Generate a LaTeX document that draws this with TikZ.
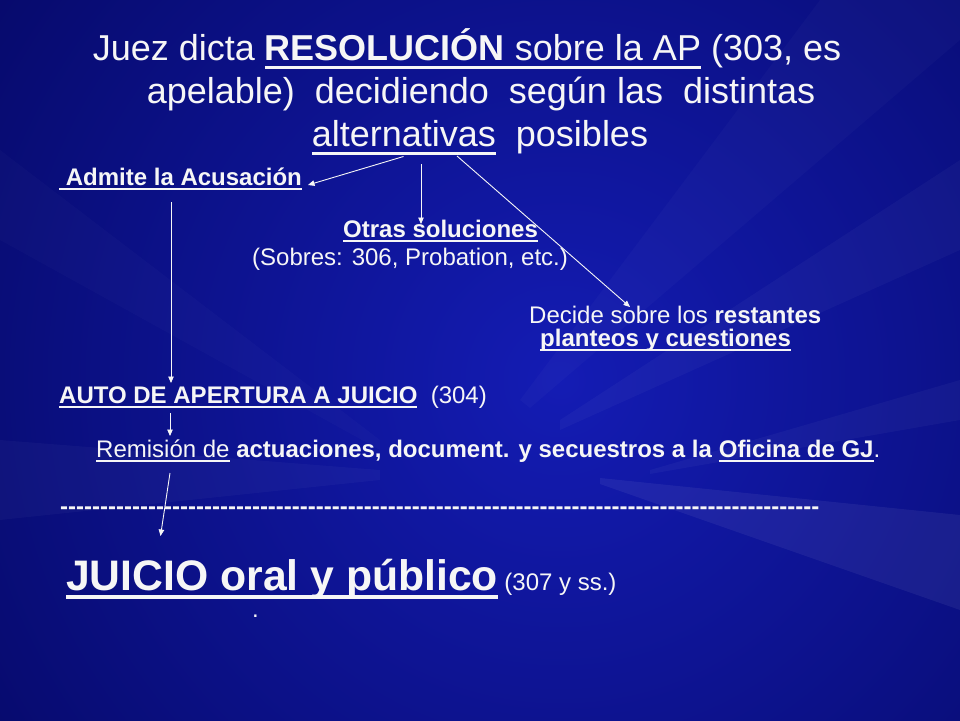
\documentclass[tikz,border=0pt]{standalone}
\usepackage{fontspec}
\setmainfont{Liberation Sans}
\usetikzlibrary{arrows.meta,calc}
\definecolor{txt}{RGB}{246,246,246}
\definecolor{bgin}{RGB}{20,28,180}
\definecolor{bgout}{RGB}{5,8,100}
\newcommand\myul[2][0.22em]{\setbox0\hbox{#2}\rlap{\rule[-#1]{\wd0}{0.08em}}\box0\relax}
\newcommand\dashrow[1]{\foreach \k in {1,...,#1}{-\kern0pt}}
\tikzset{
  txtnode/.style={text=txt, inner sep=0pt, anchor=base west, font=\fontsize{24}{28}\selectfont},
  ttl/.style={text=txt, inner sep=0pt, anchor=base, font=\fontsize{36}{43}\selectfont},
  arr/.style={draw=txt, line width=0.9pt, -{Triangle[width=5.5pt,length=6.5pt]}},
  streak/.style={fill=white, opacity=#1},
}
\begin{document}
\begin{tikzpicture}[x=1pt,y=-1pt]
\useasboundingbox (0,0) rectangle (960,720);
% background
\begin{scope}
  \clip (0,0) rectangle (960,720);
  \fill[bgout] (0,0) rectangle (960,720);
  \shade[inner color=bgin, outer color=bgout] (560,380) circle (760);
  \fill[streak=0.06] (600,478) -- (960,515) -- (960,610) -- (600,484) -- cycle;
  \fill[streak=0.035] (650,470) -- (960,380) -- (960,420) -- (650,474) -- cycle;
  \fill[streak=0.03] (560,420) -- (960,160) -- (960,250) -- (560,430) -- cycle;
  \fill[streak=0.025] (520,400) -- (820,0) -- (960,0) -- (960,40) -- (530,408) -- cycle;
  \fill[streak=0.03] (380,470) -- (0,440) -- (0,520) -- (380,480) -- cycle;
  \fill[streak=0.02] (380,440) -- (0,150) -- (0,240) -- (380,450) -- cycle;
\end{scope}
% title
\node[ttl] (t1) at (467,60) {Juez dicta \myul[0.26em]{\textbf{RESOLUCIÓN} sobre la AP} (303, es};
\node[ttl] (t2) at (481,103) {apelable)\ \ decidiendo\ \ según las\ \ distintas};
\node[ttl] (t3) at (480,146) {\myul[0.26em]{alternativas}\ \ posibles};
% body
\node[txtnode] (admite) at (59,185) {\myul{\textbf{\ Admite la Acusación}}};
\node[txtnode] (otras) at (343,237) {\myul{\textbf{Otras soluciones}}};
\node[txtnode] (sobres) at (252,265) {(Sobres: 306, Probation, etc.)};
\node[txtnode] (decide) at (529,323) {Decide sobre los \textbf{restantes}};
\node[txtnode] (planteos) at (540,346) {\myul{\textbf{planteos y cuestiones}}};
\node[txtnode] (auto) at (59,403) {\myul{\textbf{AUTO DE APERTURA A JUICIO}}\ \ (304)};
\node[txtnode] (remision) at (96,457) {\myul{Remisión de}\textbf{ actuaciones, document. y secuestros a la }\myul{\textbf{Oficina de GJ}}.};
\node[txtnode, font=\fontsize{24}{28}\selectfont\bfseries] (dashes) at (60,514) {\dashrow{95}};
\node[txtnode, font=\fontsize{42.7}{48}\selectfont\bfseries] (juicio) at (66,590) {\myul[0.2em]{JUICIO oral y público}};
\node[txtnode] (ss) at ($(juicio.base east)+(6,0)$) {(307 y ss.)};
\node[txtnode] (dot) at (252,617) {.};
% connector end points
\coordinate (s1) at (403.5,156.5);
\coordinate (e1) at (308,185);
\coordinate (s2) at (421,164);
\coordinate (e2) at (421,224);
\coordinate (s3) at (457,156);
\coordinate (e3) at (630,307);
\coordinate (s4) at (171,202);
\coordinate (e4) at (171,383);
\coordinate (s5) at (170,413);
\coordinate (e5) at (170,436);
\coordinate (s6) at (170,473);
\coordinate (e6) at (160.5,536);
\draw[arr] (s1) -- (e1);
\draw[arr] (s2) -- (e2);
\draw[arr] (s3) -- (e3);
\draw[arr] (s4) -- (e4);
\draw[arr] (s5) -- (e5);
\draw[arr] (s6) -- (e6);
\end{tikzpicture}
\end{document}
